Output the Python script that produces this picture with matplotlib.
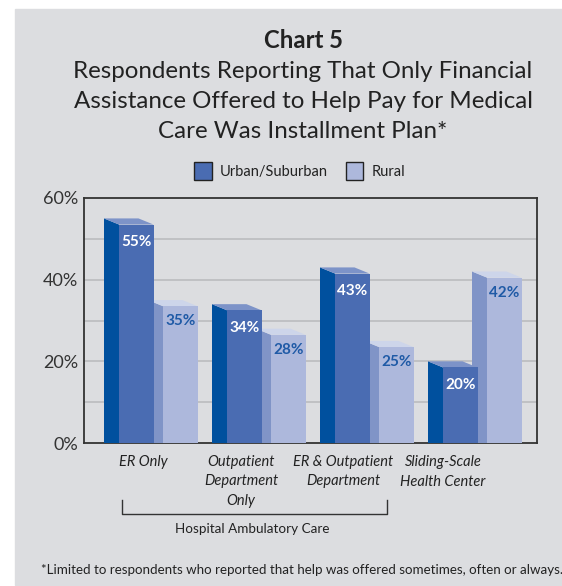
import matplotlib
matplotlib.use("Agg")
import matplotlib.pyplot as plt
from matplotlib.patches import Polygon, Rectangle
from matplotlib.lines import Line2D

categories = ["ER Only", "Outpatient\nDepartment\nOnly", "ER & Outpatient\nDepartment",
              "Sliding-Scale\nHealth Center"]
urban = [55, 34, 43, 20]
rural = [35, 28, 25, 42]
series_names = ["Urban/Suburban", "Rural"]
yticks = [0, 20, 40, 60]

W, H = 562, 586
BG = "#dcdde0"
# front, side, top colours for each series
URBAN_C = ("#4a6cb2", "#00509e", "#7d93c8")
RURAL_C = ("#adb8dc", "#8094c7", "#cdd5ea")

font = ["Lato", "DejaVu Sans"]


def fx(x):
    return x / W


def fy(y):
    return 1 - y / H


fig = plt.figure(figsize=(W / 100, H / 100), dpi=100, facecolor="white")
fig.patches.append(Rectangle((fx(15), fy(585)), fx(547), (585 - 9) / H,
                             transform=fig.transFigure, color=BG, zorder=-5))

ax = fig.add_axes([fx(84), fy(443), fx(537 - 84), (443 - 198) / H])
ax.set_facecolor(BG)
ax.set_xlim(0, 453 / 108)
ax.set_ylim(0, 60)

# bar geometry in axis units (1 unit = one category step)
x0 = 35 / 108
bw = 34.5 / 108
gap = 44 / 108
dx = -15 / 108
dy = 1.5


def bar3d(xl, v, cols, z):
    front, side, top = cols
    ax.add_patch(Polygon([(xl + dx, 0), (xl + dx, v), (xl, v - dy), (xl, 0)],
                         closed=True, fc=side, ec="none", zorder=z))
    ax.add_patch(Polygon([(xl + dx, v), (xl + dx + bw, v), (xl + bw, v - dy), (xl, v - dy)],
                         closed=True, fc=top, ec="none", zorder=z))
    ax.add_patch(Rectangle((xl, 0), bw, v - dy, fc=front, ec="none", zorder=z))


for i in range(len(categories)):
    xu = x0 + i
    xr = xu + gap
    bar3d(xr, rural[i], RURAL_C, 3)
    bar3d(xu, urban[i], URBAN_C, 4)
    ax.text(xu + bw / 2, urban[i] - dy - 4.3, f"{urban[i]}%", ha="center", va="center",
            color="white", fontsize=11, fontweight="bold", family=font, zorder=6)
    ax.text(xr + bw / 2, rural[i] - dy - 3.7, f"{rural[i]}%", ha="center", va="center",
            color="#1f5aa6", fontsize=11, fontweight="bold", family=font, zorder=6)

for g in range(10, 60, 10):
    ax.axhline(g, color="#bdbec2", lw=1.3, zorder=1)

ax.set_yticks(yticks)
ax.set_yticklabels([f"{t}%" for t in yticks], family=font, fontsize=13, color="#333333")
ax.set_xticks([])
ax.tick_params(axis="y", length=0, pad=4)
for s in ax.spines.values():
    s.set_color("#333333")
    s.set_linewidth(1.3)

# category labels under the axis
label_x = [143, 241, 343, 443]
for lx, lab in zip(label_x, categories):
    fig.text(fx(lx), fy(455), lab, ha="center", va="top", style="italic",
             fontsize=10.5, family=font, color="#222222", linespacing=1.5)

# bracket for hospital ambulatory care
bx1, bx2, by1, by2 = 122, 387, 500, 514
fig.add_artist(Line2D([fx(bx1), fx(bx1), fx(bx2), fx(bx2)], [fy(by1), fy(by2), fy(by2), fy(by1)],
                      transform=fig.transFigure, color="#333333", lw=1))
fig.text(fx(252), fy(529), "Hospital Ambulatory Care", ha="center", va="center",
         fontsize=9.7, family=font, color="#222222")

# titles
fig.text(fx(303), fy(40), "Chart 5", ha="center", va="center", fontsize=17.2,
         fontweight="bold", family=font, color="#222222")
subtitle = ["Respondents Reporting That Only Financial",
            "Assistance Offered to Help Pay for Medical",
            "Care Was Installment Plan*"]
for k, line in enumerate(subtitle):
    fig.text(fx(303), fy(71 + 30.5 * k), line, ha="center", va="center", fontsize=17.4,
             family=font, color="#222222")

# legend
fig.patches.append(Rectangle((fx(194), fy(180)), fx(18), 18 / H, transform=fig.transFigure,
                             fc=URBAN_C[0], ec="#222222", lw=1))
fig.text(fx(220), fy(172), series_names[0], ha="left", va="center", fontsize=10.5,
         family=font, color="#222222")
fig.patches.append(Rectangle((fx(346), fy(180)), fx(17), 18 / H, transform=fig.transFigure,
                             fc=RURAL_C[0], ec="#222222", lw=1))
fig.text(fx(372), fy(172), series_names[1], ha="left", va="center", fontsize=10.5,
         family=font, color="#222222")

fig.text(fx(302), fy(570),
         "*Limited to respondents who reported that help was offered sometimes, often or always.",
         ha="center", va="center", fontsize=9.6, family=font, color="#222222")

fig.savefig("out.png", dpi=100, facecolor="white")
